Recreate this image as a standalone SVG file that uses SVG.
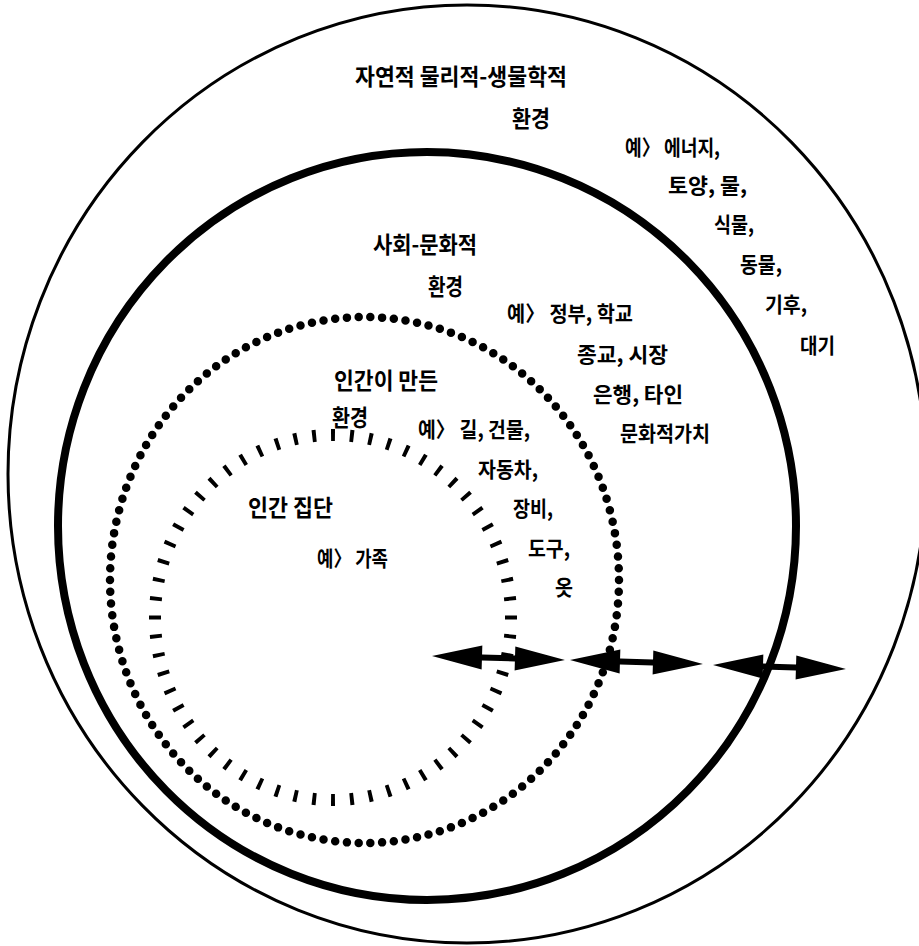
<svg xmlns="http://www.w3.org/2000/svg" xmlns:xlink="http://www.w3.org/1999/xlink" width="919" height="946" viewBox="0 0 919 946">
<style>
  .t { font-family: "Noto Sans CJK KR", "Noto Sans", sans-serif; fill: #000; font-weight: 600; }
  .h { font-size: 23px; }
  .e { font-size: 21px; }
  .ring { fill: none; stroke: #000; }
</style>
<defs>
  <path id="dbl" d="M0,0 L50,-12 L50,-3 L83,-3 L83,-12 L133,0 L83,12 L83,3 L50,3 L50,12 Z" fill="#000"/>
</defs>
<rect width="919" height="946" fill="#fff"/>

<g id="natural">
  <ellipse class="ring" cx="467" cy="474" rx="459" ry="469" stroke-width="3"/>
  <text class="t h" x="355" y="85" textLength="212" lengthAdjust="spacingAndGlyphs">자연적 물리적-생물학적</text>
  <text class="t h" x="512" y="127" textLength="38" lengthAdjust="spacingAndGlyphs">환경</text>
  <text class="t e" x="625" y="155" textLength="95" lengthAdjust="spacingAndGlyphs">예〉 에너지,</text>
  <text class="t e" x="668" y="193" textLength="79" lengthAdjust="spacingAndGlyphs">토양, 물,</text>
  <text class="t e" x="714" y="232" textLength="40" lengthAdjust="spacingAndGlyphs">식물,</text>
  <text class="t e" x="740" y="272" textLength="42" lengthAdjust="spacingAndGlyphs">동물,</text>
  <text class="t e" x="765" y="312" textLength="42" lengthAdjust="spacingAndGlyphs">기후,</text>
  <text class="t e" x="800" y="353" textLength="35" lengthAdjust="spacingAndGlyphs">대기</text>
</g>

<g id="social">
  <ellipse class="ring" cx="427" cy="526" rx="369" ry="374" stroke-width="8"/>
  <text class="t h" x="373" y="253" textLength="104" lengthAdjust="spacingAndGlyphs">사회-문화적</text>
  <text class="t h" x="428" y="295" textLength="35" lengthAdjust="spacingAndGlyphs">환경</text>
  <text class="t e" x="507" y="321" textLength="126" lengthAdjust="spacingAndGlyphs">예〉 정부, 학교</text>
  <text class="t e" x="577" y="362" textLength="91" lengthAdjust="spacingAndGlyphs">종교, 시장</text>
  <text class="t e" x="593" y="402" textLength="90" lengthAdjust="spacingAndGlyphs">은행, 타인</text>
  <text class="t e" x="620" y="441" textLength="90" lengthAdjust="spacingAndGlyphs">문화적가치</text>
</g>

<g id="built">
  <ellipse class="ring" cx="364.5" cy="580" rx="254.5" ry="263" stroke-width="8.5" stroke-linecap="round" pathLength="138" stroke-dasharray="0 1"/>
  <text class="t h" x="334" y="389" textLength="104" lengthAdjust="spacingAndGlyphs">인간이 만든</text>
  <text class="t h" x="332" y="426" textLength="36" lengthAdjust="spacingAndGlyphs">환경</text>
  <text class="t e" x="418" y="437" textLength="112" lengthAdjust="spacingAndGlyphs">예〉 길, 건물,</text>
  <text class="t e" x="478" y="477" textLength="60" lengthAdjust="spacingAndGlyphs">자동차,</text>
  <text class="t e" x="513" y="516" textLength="40" lengthAdjust="spacingAndGlyphs">장비,</text>
  <text class="t e" x="528" y="556" textLength="42" lengthAdjust="spacingAndGlyphs">도구,</text>
  <text class="t e" x="555" y="595" textLength="18" lengthAdjust="spacingAndGlyphs">옷</text>
</g>

<g id="group">
  <ellipse class="ring" cx="333" cy="617.5" rx="178" ry="182.5" stroke-width="12" pathLength="60" stroke-dasharray="0.21 0.79" stroke-dashoffset="0.105"/>
  <text class="t h" x="248" y="516" textLength="85" lengthAdjust="spacingAndGlyphs">인간 집단</text>
  <text class="t e" x="317" y="566" textLength="71" lengthAdjust="spacingAndGlyphs">예〉 가족</text>
</g>

<g id="connectors">
  <use xlink:href="#dbl" transform="translate(432,656) rotate(1.7)"/>
  <use xlink:href="#dbl" transform="translate(570,660) rotate(1.7)"/>
  <use xlink:href="#dbl" transform="translate(713,665) rotate(1.7)"/>
</g>
</svg>
